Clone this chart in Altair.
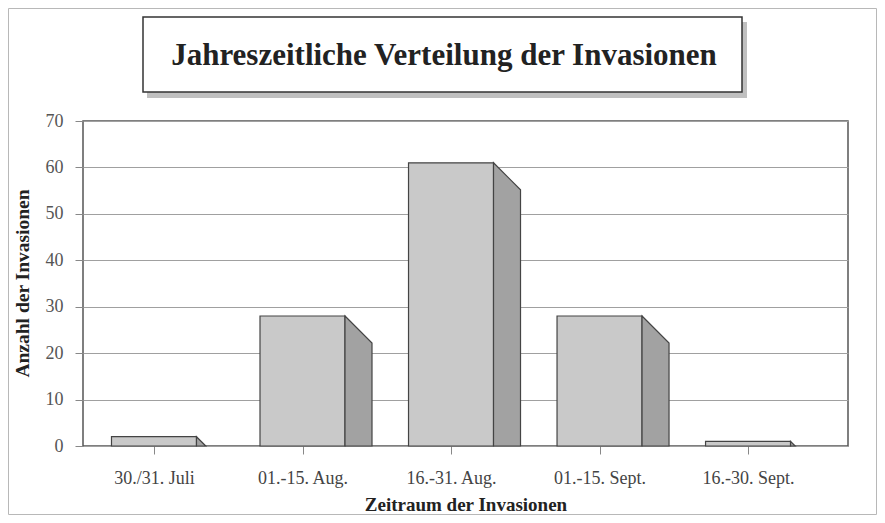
import json
import altair as alt
import pandas as pd

# ---- data ----
categories = ["30./31. Juli", "01.-15. Aug.", "16.-31. Aug.", "01.-15. Sept.", "16.-30. Sept."]
values = [2, 28, 61, 28, 1]
y_ticks = [0, 10, 20, 30, 40, 50, 60, 70]
title_text = "Jahreszeitliche Verteilung der Invasionen"
x_title = "Zeitraum der Invasionen"
y_title = "Anzahl der Invasionen"

# ---- layout ----
W, H = 765, 325
x_dom = [-0.478, 4.673]
y_dom = [0, 70]
px_x = W / (x_dom[1] - x_dom[0])
px_y = H / (y_dom[1] - y_dom[0])
half = 42.5 / px_x          # half width of the front face (x units)
depth_px = 27               # depth of the bevelled side face (pixels)

idx = list(range(len(categories)))
front = pd.DataFrame({
    "cat": categories,
    "x0": [i - half for i in idx],
    "x1": [i + half for i in idx],
    "v": values,
})

side_rows = []
for i, c, v in zip(idx, categories, values):
    d = min(depth_px, v * px_y)
    side_rows.append({"grp": i, "sx": i + half, "sy": v})
    side_rows.append({"grp": i, "sx": i + half + d / px_x, "sy": v - d / px_y})
side = pd.DataFrame(side_rows)

serif = "Liberation Serif"
xs = alt.Scale(domain=x_dom, nice=False, zero=False)
ys = alt.Scale(domain=y_dom, nice=False)

x_axis = alt.Axis(
    values=idx,
    labelExpr=json.dumps(categories) + "[datum.value]",
    title=x_title, grid=False, domain=False,
    tickSize=8, tickColor="#888",
    labelFont=serif, labelFontSize=18, labelColor="#444", labelPadding=15,
    titleFont=serif, titleFontSize=19, titleFontWeight="bold", titleColor="#222",
    titleY=58, titleBaseline="middle",
)
y_axis = alt.Axis(
    values=y_ticks, title=y_title, domain=False,
    grid=True, gridColor="#a0a0a0", gridWidth=1,
    tickSize=8, tickColor="#888",
    labelFont=serif, labelFontSize=18, labelColor="#555", labelPadding=12,
    titleFont=serif, titleFontSize=19.5, titleFontWeight="bold", titleColor="#222",
    titleAngle=270, titleX=-61, titleY=162, titleAlign="center", titleBaseline="middle",
)

one = pd.DataFrame({"a": [0]})

outer = alt.Chart(one).mark_rect(fill="transparent", stroke="#b8b8b8", strokeWidth=1, clip=False).encode(
    x=alt.value(-74.5), x2=alt.value(793.5), y=alt.value(-112.5), y2=alt.value(393.5))
shadow = alt.Chart(one).mark_rect(fill="#c0c0c0", clip=False).encode(
    x=alt.value(64), x2=alt.value(664), y=alt.value(-99), y2=alt.value(-23))
box = alt.Chart(one).mark_rect(fill="white", stroke="#333", strokeWidth=1.5, clip=False).encode(
    x=alt.value(60), x2=alt.value(659), y=alt.value(-104), y2=alt.value(-29))
title = alt.Chart(pd.DataFrame({"t": [title_text]})).mark_text(
    font=serif, fontSize=31, fontWeight="bold", color="#222", baseline="alphabetic", align="center", clip=False
).encode(x=alt.value(361), y=alt.value(-56), text="t:N")

bars = alt.Chart(front).mark_rect(fill="#c9c9c9", stroke="#444", strokeWidth=1.2).encode(
    x=alt.X("x0:Q", scale=xs, axis=x_axis),
    x2="x1:Q",
    y=alt.Y("v:Q", scale=ys, axis=y_axis),
    y2=alt.datum(0),
)

side_layers = []
for i in idx:
    side_layers.append(
        alt.Chart(side).transform_filter(alt.datum.grp == i).mark_area(
            fill="#a2a2a2", stroke="#444", strokeWidth=1.2
        ).encode(
            x=alt.X("sx:Q", scale=xs),
            y=alt.Y("sy:Q", scale=ys, stack=None),
            y2=alt.datum(0),
        )
    )

chart = alt.layer(outer, shadow, box, title, bars, *side_layers).properties(
    width=W, height=H,
    autosize=alt.AutoSizeParams(type="none"),
    padding={"left": 75, "top": 113, "right": 29, "bottom": 69},
    background="white",
).configure_view(stroke="#555", strokeWidth=1.5)

chart.save("out.html", embed_options={"renderer": "svg", "actions": False})
